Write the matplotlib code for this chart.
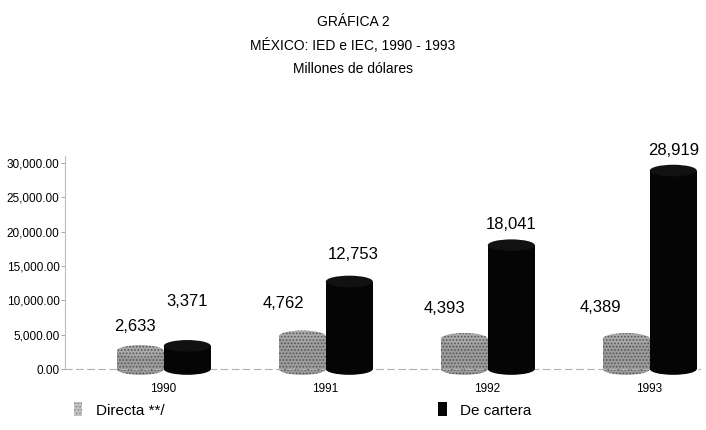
import matplotlib
matplotlib.use("Agg")
import matplotlib.pyplot as plt
from matplotlib.patches import Ellipse, Patch
import numpy as np

# Data (millones de dólares)
years = ["1990", "1991", "1992", "1993"]
directa = [2633, 4762, 4393, 4389]
cartera = [3371, 12753, 18041, 28919]
series_names = ["Directa **/", "De cartera"]
y_ticks = [0, 5000, 10000, 15000, 20000, 25000, 30000]
title_lines = ["GRÁFICA 2", "MÉXICO: IED e IEC, 1990 - 1993", "Millones de dólares"]

plt.rcParams["font.family"] = ["Liberation Sans", "DejaVu Sans"]
plt.rcParams["hatch.linewidth"] = 0.8

W, H = 706, 430
fig = plt.figure(figsize=(W / 100, H / 100), dpi=100)
ax = fig.add_axes([65 / W, 1 - 369 / H, 635 / W, (369 - 122) / H])
ax.set_xlim(-0.605, 3.315)
ax.set_ylim(0, 36000)

x = np.arange(len(years))
bar_w = 0.29
off_d, off_c = -0.14, 0.15
cap_h = 1700  # depth of the elliptical caps, in data units

gray_face, gray_hatch, gray_cap = "#9c9c9c", "#555555", "#aaaaaa"
black = "#050505"


def cylinders(xs, vals, face, hatch, hatch_col, cap_face, z):
    ax.bar(xs, vals, bar_w, color=face, hatch=hatch, edgecolor=hatch_col,
           linewidth=0, zorder=z)
    for xc, v in zip(xs, vals):
        ax.add_patch(Ellipse((xc, 0), bar_w, cap_h, facecolor=face, hatch=hatch,
                             edgecolor=hatch_col, linewidth=0, zorder=z,
                             clip_on=False))
        ax.add_patch(Ellipse((xc, v), bar_w, cap_h, facecolor=cap_face,
                             hatch=hatch, edgecolor=hatch_col, linewidth=0,
                             zorder=z + 0.1, clip_on=False))


cylinders(x + off_d, directa, gray_face, ".....", gray_hatch, gray_cap, 2)
cylinders(x + off_c, cartera, black, None, black, "#111111", 3)

# value labels (offsets in pixels from the top of each cylinder)
d_dx, d_dy = [-5, -19, -20, -26], [24, 33, 30, 31]
c_dx, c_dy = [0, 4, 0, 0], [44, 27, 21, 20]
for i in range(len(years)):
    ax.annotate(f"{directa[i]:,}", xy=(x[i] + off_d, directa[i]),
                xytext=(d_dx[i], d_dy[i]), textcoords="offset pixels",
                ha="center", va="center", fontsize=12, zorder=5,
                annotation_clip=False)
    ax.annotate(f"{cartera[i]:,}", xy=(x[i] + off_c, cartera[i]),
                xytext=(c_dx[i], c_dy[i]), textcoords="offset pixels",
                ha="center", va="center", fontsize=12, zorder=5,
                annotation_clip=False)

# axes styling
ax.set_yticks(y_ticks)
ax.set_yticklabels([f"{t:,.2f}" for t in y_ticks], fontsize=8.5)
ax.set_xticks(x)
ax.set_xticklabels(years, fontsize=8.5)
ax.tick_params(axis="x", length=0, pad=10)
ax.tick_params(axis="y", length=3, width=0.6, color="#999999", pad=1)
for s in ["top", "right"]:
    ax.spines[s].set_visible(False)
ax.spines["left"].set_color("#bdbdbd")
ax.spines["left"].set_linewidth(0.8)
ax.spines["left"].set_bounds(0, 31000)
ax.spines["bottom"].set_color("#b0b0b0")
ax.spines["bottom"].set_linewidth(0.8)
ax.spines["bottom"].set_linestyle((0, (6, 4)))
ax.patch.set_visible(False)

# titles
for txt, ypx in zip(title_lines, [22, 46, 69]):
    fig.text(0.5, 1 - ypx / H, txt, ha="center", va="center", fontsize=10)

# legend
handles = [Patch(facecolor="#c4c4c4", hatch=".....", edgecolor="#8a8a8a", linewidth=0),
           Patch(facecolor=black, edgecolor=black, linewidth=0)]
fig.legend(handles, series_names, loc="center left",
           bbox_to_anchor=(74 / W, 1 - 410 / H), ncol=2, frameon=False,
           handlelength=0.55, handleheight=1.0, handletextpad=0.9,
           columnspacing=17.9, fontsize=11, borderaxespad=0, borderpad=0)

fig.savefig("out.png", dpi=100)
